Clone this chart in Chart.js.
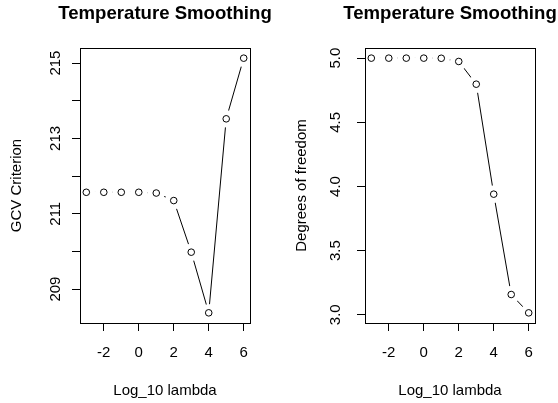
<!DOCTYPE html>
<html>
<head>
<meta charset="utf-8">
<script src="https://cdn.jsdelivr.net/npm/chart.js@4.4.1/dist/chart.umd.min.js"></script>
<style>
  html, body { margin: 0; padding: 0; background: #fff; }
  .row { display: flex; width: 558px; height: 403px; }
  .panel { width: 279px; height: 403px; position: relative; }
</style>
</head>
<body>
<div class="row">
  <div class="panel"><canvas id="gcvChart" width="279" height="403"></canvas></div>
  <div class="panel"><canvas id="dfChart" width="279" height="403"></canvas></div>
</div>
<script>
// log10 of the smoothing parameter
const logLambda = [-3, -2, -1, 0, 1, 2, 3, 4, 5, 6];
// generalized cross-validation criterion
const gcvValues = [211.57, 211.57, 211.57, 211.57, 211.55, 211.35, 209.98, 208.37, 213.52, 215.13];
// effective degrees of freedom
const dfValues = [5.0, 5.0, 5.0, 5.0, 4.999, 4.974, 4.797, 3.94, 3.158, 3.015];

const lambdaTicks = [-2, 0, 2, 4, 6];
const gcvTicks = [209, 210, 211, 212, 213, 214, 215];
const gcvTickLabels = ["209", "", "211", "", "213", "", "215"];
const dfTicks = [3.0, 3.5, 4.0, 4.5, 5.0];
const dfTickLabels = ["3.0", "3.5", "4.0", "4.5", "5.0"];

const FONT = "'Liberation Sans', Arial, sans-serif";
Chart.defaults.font.family = FONT;
Chart.defaults.font.size = 15;
Chart.defaults.color = "#000";

// frame around the plotting region + main title centred over it
const framePlugin = {
  id: "frame",
  afterDraw(chart, args, opts) {
    const a = chart.chartArea;
    const ctx = chart.ctx;
    ctx.save();
    ctx.strokeStyle = "#000";
    ctx.lineWidth = 1;
    ctx.strokeRect(Math.round(a.left) + 0.5, Math.round(a.top) + 0.5,
      Math.round(a.right - a.left), Math.round(a.bottom - a.top));
    ctx.fillStyle = "#000";
    ctx.font = "bold 18.6px " + FONT;
    ctx.textAlign = "center";
    ctx.textBaseline = "alphabetic";
    ctx.fillText(opts.text, (a.left + a.right) / 2, 18.5);
    ctx.restore();
  }
};

function makePanel(id, yValues, cfg) {
  const pts = logLambda.map((x, i) => ({ x: x, y: yValues[i] }));
  return new Chart(document.getElementById(id), {
    type: "line",
    data: {
      datasets: [
        // open circles
        { data: pts, showLine: false, pointRadius: 3.3, pointBorderWidth: 1,
          pointBorderColor: "#000", pointBackgroundColor: "rgba(0,0,0,0)" },
        // white gap around each point, short segments vanish
        { data: pts, showLine: false, pointRadius: 8.8, pointBorderWidth: 0,
          pointBackgroundColor: "#fff", pointBorderColor: "#fff" },
        // connecting line
        { data: pts, borderColor: "#000", borderWidth: 1, pointRadius: 0, tension: 0 }
      ]
    },
    options: {
      responsive: false,
      animation: false,
      events: [],
      layout: { padding: { left: 0, right: cfg.padRight, top: 48, bottom: 0 } },
      plugins: {
        legend: { display: false },
        tooltip: { enabled: false },
        title: { display: false },
        frame: { text: "Temperature Smoothing" }
      },
      scales: {
        x: {
          type: "linear",
          min: -3.36,
          max: 6.36,
          afterBuildTicks: s => { s.ticks = lambdaTicks.map(v => ({ value: v })); },
          afterFit: s => { s.height = 80; },
          border: { display: false },
          grid: { drawOnChartArea: false, drawTicks: true, tickLength: 8, color: "#000" },
          ticks: { padding: 13, maxRotation: 0, color: "#000" },
          title: { display: true, text: "Log_10 lambda", padding: { top: 0, bottom: 3 }, color: "#000" }
        },
        y: {
          type: "linear",
          min: cfg.yMin,
          max: cfg.yMax,
          afterBuildTicks: s => { s.ticks = cfg.ticks.map(v => ({ value: v })); },
          afterFit: s => { s.width = cfg.axisWidth; },
          border: { display: false },
          grid: { drawOnChartArea: false, drawTicks: true, tickLength: 8, color: "#000" },
          ticks: {
            minRotation: 90,
            maxRotation: 90,
            crossAlign: "center",
            padding: cfg.tickPad,
            color: "#000",
            callback: (v, i) => cfg.labels[i]
          },
          title: { display: true, text: cfg.yTitle, padding: { top: cfg.titlePad, bottom: 0 }, color: "#000" }
        }
      }
    },
    plugins: [framePlugin]
  });
}

makePanel("gcvChart", gcvValues, {
  yMin: 208.1, yMax: 215.4,
  ticks: gcvTicks, labels: gcvTickLabels,
  yTitle: "GCV Criterion",
  axisWidth: 80, padRight: 29, tickPad: 3.5, titlePad: 8
});

makePanel("dfChart", dfValues, {
  yMin: 2.936, yMax: 5.079,
  ticks: dfTicks, labels: dfTickLabels,
  yTitle: "Degrees of freedom",
  axisWidth: 86, padRight: 23, tickPad: 10.6, titlePad: 13.7
});
</script>
</body>
</html>
